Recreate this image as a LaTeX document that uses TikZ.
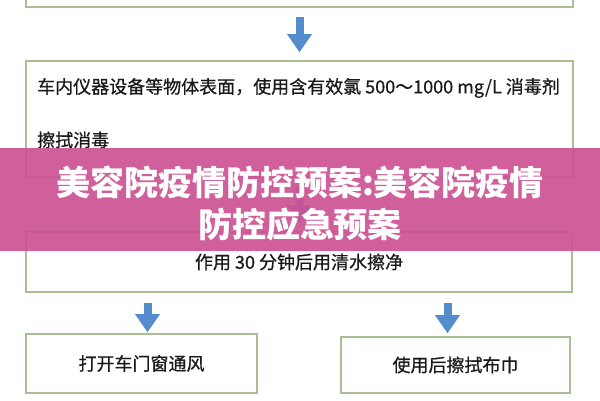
\documentclass[tikz,border=0pt]{standalone}
\usepackage{fontspec}
\usepackage{tikz}
\usetikzlibrary{arrows.meta,calc}
\newfontfamily\cjk{Noto Sans CJK SC}
\newfontfamily\cjkbox[FakeBold=0.6]{Noto Sans CJK SC}
\definecolor{boxline}{RGB}{170,190,150}
\definecolor{arrowblue}{RGB}{84,141,204}
\definecolor{bannerpink}{RGB}{204,82,148}
\definecolor{boxtext}{RGB}{25,25,25}

\tikzset{
  stepbox/.style={draw=boxline, line width=1.6pt, fill=white, rectangle, inner sep=0pt,
    font=\cjkbox\fontsize{18}{22}\selectfont, text=boxtext},
  steptext/.style={anchor=west, inner sep=0pt, font=\cjkbox\fontsize{18}{22}\selectfont, text=boxtext},
  flowarrow/.style={draw=arrowblue, line width=8pt,
    -{Triangle[width=25pt,length=18pt,line width=0pt]}, shorten <=9pt, shorten >=8pt},
  banner/.style={rectangle, fill=bannerpink, fill opacity=0.92, inner sep=0pt,
    minimum width=600pt, minimum height=103pt},
}

\begin{document}
\begin{tikzpicture}[x=1pt,y=-1pt]
  \useasboundingbox (0,0) rectangle (600,400);
  \clip (0,0) rectangle (600,400);

  % Boxes
  % first box, only its bottom edge is in the picture
  \node[stepbox, minimum width=547pt, minimum height=60pt] (box1) at (299.5,-23) {};
  \node[stepbox, minimum width=547pt, minimum height=116pt] (box2) at (299.5,119) {};
  \node[steptext] (box2a) at (37,88) {车内仪器设备等物体表面，使用含有效氯 500～1000 mg/L 消毒剂};
  \node[steptext] (box2b) at (37,140) {擦拭消毒};
  \node[stepbox, minimum width=546pt, minimum height=60pt] (box3) at (299,262) {作用 30 分钟后用清水擦净};
  \node[stepbox, minimum width=231pt, minimum height=59pt] (box4) at (141.5,363.5) {打开车门窗通风};
  \node[stepbox, minimum width=229pt, minimum height=56pt] (box5) at (455.5,365) {使用后擦拭布巾};

  % Arrows
  \draw[flowarrow] (box1.south) -- (box2.north);
  \draw[flowarrow] (box2.south) -- (box3.north);
  \draw[flowarrow, shorten <=10pt, shorten >=1pt] ($(box4.north|-box3.south)+(6,0)$) -- ($(box4.north)+(6,0)$);
  \draw[flowarrow, shorten <=10pt, shorten >=3pt] ($(box5.north|-box3.south)+(-8,0)$) -- ($(box5.north)+(-8,0)$);

  % Title banner across the middle
  \node[banner] (band) at (300,199.5) {};
  \node[align=center, text=white, font=\cjk\bfseries\fontsize{34}{42}\selectfont] (title) at (300,204)
    {美容院疫情防控预案:美容院疫情\\防控应急预案};
\end{tikzpicture}
\end{document}
